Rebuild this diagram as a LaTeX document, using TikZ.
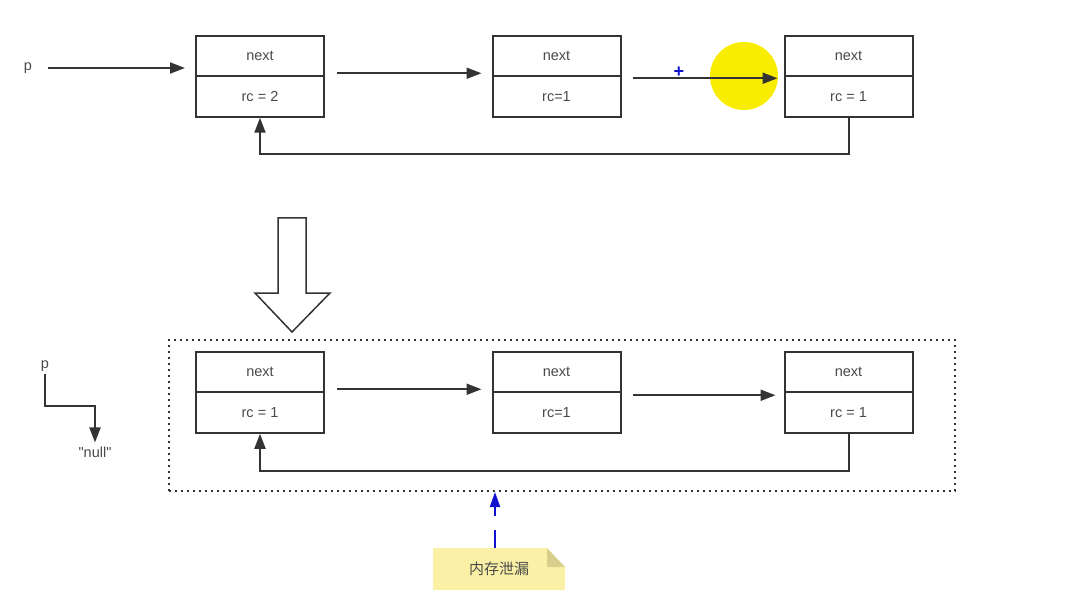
\documentclass[tikz,border=0pt]{standalone}
\usepackage{fontspec}
\setmainfont{Liberation Sans}
\newfontfamily\rawfont{Liberation Sans}
\newfontfamily\cjk{Noto Sans CJK SC}
\usetikzlibrary{arrows.meta, calc}

\definecolor{linegray}{HTML}{333333}
\definecolor{textgray}{HTML}{4A4A4A}
\definecolor{hiyellow}{HTML}{F8EC00}
\definecolor{notey}{HTML}{FBF1A6}
\definecolor{foldy}{HTML}{D8CF8C}
\definecolor{cursorblue}{HTML}{1010D0}

\begin{document}
\begin{tikzpicture}[
    x=1pt, y=-1pt,
    cell/.style={draw=linegray, line width=2pt, minimum width=128pt,
                 minimum height=40.5pt, inner sep=0pt, font=\fontsize{14.5}{16}\selectfont,
                 text=textgray},
    lbl/.style={font=\fontsize{14.5}{16}\selectfont, text=textgray, inner sep=2pt},
    arr/.style={draw=linegray, line width=2pt,
                -{Triangle[length=15pt, width=11pt]}},
    notebox/.style={fill=notey, minimum width=132pt, minimum height=42pt,
                 font=\cjk\fontsize{15}{17}\selectfont, text=textgray,
                 path picture={
                   \fill[white] ([xshift=-18pt]path picture bounding box.north east)
                     -- (path picture bounding box.north east)
                     -- ([yshift=-19pt]path picture bounding box.north east) -- cycle;
                   \fill[foldy] ([xshift=-18pt]path picture bounding box.north east)
                     -- ([xshift=-18pt, yshift=-19pt]path picture bounding box.north east)
                     -- ([yshift=-19pt]path picture bounding box.north east) -- cycle;}}
  ]
  \useasboundingbox (0,0) rectangle (1072,599);

  % top list
  \fill[hiyellow] (744,76) circle (34);
  \node[font=\bfseries\fontsize{18}{18}\selectfont, text=cursorblue] (plus) at (679,72) {+};

  \node[lbl] (p1) at (28,68) {p};
  \node[cell] (t1n) at (260,56) {next};
  \node[cell] (t1r) at (260,96.5) {rc = 2};
  \node[cell] (t2n) at (556.5,56) {next};
  \node[cell] (t2r) at (556.5,96.5) {rc=1};
  \node[cell] (t3n) at (848.5,56) {next};
  \node[cell] (t3r) at (848.5,96.5) {rc = 1};

  \draw[arr, shorten <=14pt, shorten >=10pt] (p1.east) -- (p1.east -| t1n.west);
  \draw[arr, shorten <=12pt, shorten >=10pt] ([yshift=4pt]t1n.south east) -- ([yshift=4pt]t2n.south west);
  \draw[arr, shorten <=11pt, shorten >=6pt] ([yshift=-1pt]t2n.south east) -- ([yshift=-1pt]t3n.south west);
  \draw[arr] (t3r.south) -- ++(0,36) -| (t1r.south);

  % hollow arrow
  \draw[linegray, line width=1.5pt, fill=white]
    (278,218) -- (306,218) -- (306,293) -- (330,293) -- (292,332)
    -- (255,293) -- (278,293) -- cycle;

  % bottom list
  \node[draw=linegray, line width=2pt, dash pattern=on 2pt off 4pt, minimum width=786pt,
        minimum height=151pt, inner sep=0pt] (group) at (562,415.5) {};

  \node[cell] (b1n) at (260,372) {next};
  \node[cell] (b1r) at (260,412.5) {rc = 1};
  \node[cell] (b2n) at (556.5,372) {next};
  \node[cell] (b2r) at (556.5,412.5) {rc=1};
  \node[cell] (b3n) at (848.5,372) {next};
  \node[cell] (b3r) at (848.5,412.5) {rc = 1};

  \draw[arr, shorten <=12pt, shorten >=10pt] ([yshift=4pt]b1n.south east) -- ([yshift=4pt]b2n.south west);
  \draw[arr, shorten <=11pt, shorten >=8pt] ([yshift=-2pt]b2n.south east) -- ([yshift=-2pt]b3n.south west);
  \draw[arr] (b3r.south) -- ++(0,37) -| (b1r.south);

  \node[lbl] (p2) at (45,366) {p};
  \node[lbl, font=\rawfont\fontsize{14.5}{16}\selectfont] (null) at (95,452) {"null"};
  \draw[arr, shorten >=2pt] (p2.south) -- ++(0,32) -| (null.north);

  % leak note
  \node[notebox] (note) at (499,569) {内存泄漏};
  \draw[cursorblue, line width=2pt, dash pattern=on 18pt off 14pt,
        -{Triangle[length=15pt, width=10pt]}] ([xshift=-4pt]note.north) -- ([xshift=-4pt]note.north |- group.south);
\end{tikzpicture}
\end{document}
